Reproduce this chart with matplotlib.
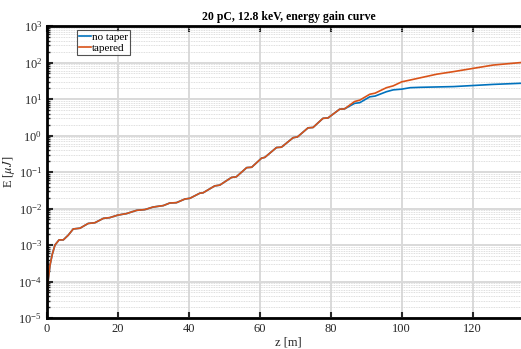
import matplotlib
matplotlib.use("Agg")
import matplotlib.pyplot as plt
import numpy as np
from matplotlib.ticker import LogLocator, FixedLocator

plt.rcParams['font.family'] = ['Liberation Serif', 'DejaVu Serif']
plt.rcParams['mathtext.fontset'] = 'stix'

# z [m] and log10(E [uJ]), shared part first
z_common = [0, 0.3, 0.85, 1.5, 2.25, 3.4, 4.6, 6.0, 7.4, 9.3, 11.6, 13.5, 15.9,
            17.7, 20.0, 22.4, 25.3, 27.6, 29.9, 32.8, 34.6, 36.5, 38.9, 40.3,
            43.1, 44.0, 47.3, 48.7, 52.0, 53.4, 56.3, 57.7, 60.5, 61.4, 64.7,
            66.1, 69.4, 70.6, 73.6, 75.0, 77.8, 79.2, 82.5, 83.9]
logE_common = [-5.0, -4.0, -3.55, -3.25, -3.0, -2.86, -2.86, -2.73, -2.56, -2.54,
               -2.41, -2.39, -2.27, -2.25, -2.18, -2.14, -2.05, -2.03, -1.96,
               -1.92, -1.85, -1.84, -1.74, -1.72, -1.58, -1.57, -1.38, -1.36,
               -1.15, -1.13, -0.88, -0.87, -0.62, -0.60, -0.33, -0.32, -0.06,
               -0.04, 0.21, 0.22, 0.47, 0.48, 0.72, 0.73]

z_tail = [86.7, 88.2, 91.0, 92.5, 95.7, 97.6, 100.0, 102.4, 105.2, 109.9,
          114.6, 120.2, 125.8, 136.0]
logE_notaper = [0.88, 0.90, 1.06, 1.08, 1.20, 1.25, 1.27, 1.31, 1.32, 1.33,
                1.34, 1.37, 1.40, 1.44]
logE_tapered = [0.93, 0.97, 1.13, 1.16, 1.31, 1.36, 1.47, 1.52, 1.58, 1.68,
                1.75, 1.84, 1.93, 2.02]

z = np.array(z_common + z_tail)
E_notaper = 10.0 ** np.array(logE_common + logE_notaper)
E_tapered = 10.0 ** np.array(logE_common + logE_tapered)

# axes run past the right edge of the picture (cropped like the original)
fig = plt.figure(figsize=(5.21, 3.49), dpi=100)
ax = fig.add_axes([47 / 521, 31 / 349, 483 / 521, 292 / 349])

ax.semilogy(z, E_notaper, color=(0, 0.447, 0.741), lw=1.2, label='no taper')
ax.semilogy(z, E_tapered, color=(0.851, 0.325, 0.098), lw=1.2, label='tapered')

ax.set_xlim(0, 483 / 3.547)
ax.set_ylim(1e-5, 1e3)
ax.xaxis.set_major_locator(FixedLocator([0, 20, 40, 60, 80, 100, 120]))
ax.yaxis.set_major_locator(LogLocator(base=10, numticks=20))
ax.yaxis.set_minor_locator(LogLocator(base=10, subs=np.arange(2, 10), numticks=20))

ax.grid(True, which='major', axis='both', color='#d9d9d9', lw=1.4)
ax.grid(True, which='minor', axis='y', color='#d4d4d4', lw=0.6, ls=(0, (1, 1)))
ax.set_axisbelow(True)

for s in ax.spines.values():
    s.set_linewidth(2.0)
ax.tick_params(which='both', direction='in', top=True, right=True,
               labelsize=9, colors='#262626', labelcolor='#262626')
ax.tick_params(which='major', length=4, width=1.5)
ax.tick_params(which='minor', length=2.5, width=1.0)

ax.set_title('20 pC, 12.8 keV, energy gain curve', fontsize=8.5,
             fontweight='bold', pad=4)
ax.set_xlabel('z [m]', fontsize=9, labelpad=1, color='#262626')
ax.set_ylabel(r'E [$\mu J$]', fontsize=9, labelpad=1, color='#262626')

leg = ax.legend(loc='upper left', bbox_to_anchor=(0.062, 0.985), fontsize=8,
                frameon=True, fancybox=False, edgecolor='#262626',
                handlelength=1.1, handletextpad=0.1, borderpad=0.15,
                labelspacing=0.15, borderaxespad=0)
leg.get_frame().set_linewidth(0.8)

fig.savefig('out.png', dpi=100)
